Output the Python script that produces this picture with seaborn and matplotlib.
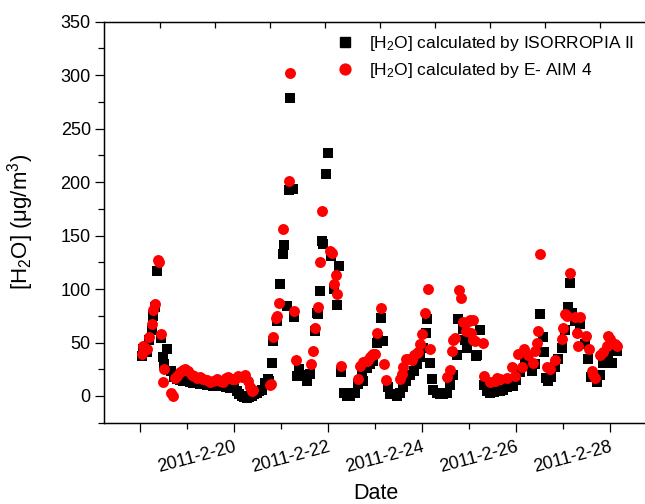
import numpy as np
import pandas as pd
import matplotlib
matplotlib.use("Agg")
import matplotlib.pyplot as plt
import seaborn as sns
from matplotlib.ticker import MultipleLocator, FixedLocator
from matplotlib.lines import Line2D

sns.set_style("ticks")
plt.rcParams["font.family"] = ["Liberation Sans", "DejaVu Sans"]
plt.rcParams["mathtext.fontset"] = "custom"
plt.rcParams["mathtext.rm"] = "Liberation Sans"
plt.rcParams["mathtext.it"] = "Liberation Sans:italic"
plt.rcParams["mathtext.bf"] = "Liberation Sans:bold"
for key in ["text.color", "axes.labelcolor", "xtick.color", "ytick.color", "axes.edgecolor"]:
    plt.rcParams[key] = "black"

# ---- data (day of February 2011, water content in ug/m3) ----
iso_day = [18.04, 18.07, 18.14, 18.20, 18.25, 18.28, 18.32, 18.37, 18.44, 18.48, 18.52, 18.57,
           18.67, 18.72, 18.78, 18.85, 18.92, 18.99, 19.06, 19.13, 19.21, 19.28, 19.35, 19.42,
           19.49, 19.56, 19.63, 19.70, 19.77, 19.84, 19.91, 19.99, 20.06, 20.11, 20.16, 20.21,
           20.27, 20.32, 20.38, 20.43, 20.48, 20.53, 20.60, 20.66, 20.72, 20.75, 20.80, 20.84,
           20.92, 20.98, 21.04, 21.07, 21.12, 21.16, 21.19, 21.25, 21.28, 21.33, 21.39, 21.44,
           21.55, 21.62, 21.72, 21.76, 21.78, 21.83, 21.87, 21.90, 21.96, 22.01, 22.06, 22.13,
           22.20, 22.24, 22.28, 22.33, 22.40, 22.47, 22.54, 22.57, 22.64, 22.72, 22.75, 22.82,
           22.89, 22.96, 23.04, 23.07, 23.12, 23.18, 23.28, 23.32, 23.39, 23.46, 23.53, 23.60,
           23.67, 23.74, 23.82, 23.89, 23.96, 24.02, 24.09, 24.10, 24.16, 24.21, 24.24, 24.31,
           24.38, 24.45, 24.53, 24.60, 24.66, 24.74, 24.77, 24.88, 24.91, 24.95, 25.02, 25.15,
           25.16, 25.23, 25.32, 25.38, 25.45, 25.53, 25.60, 25.66, 25.72, 25.81, 25.87, 25.94,
           26.00, 26.09, 26.19, 26.26, 26.33, 26.40, 26.51, 26.58, 26.60, 26.64, 26.69, 26.74,
           26.83, 26.89, 26.97, 27.04, 27.11, 27.15, 27.19, 27.26, 27.36, 27.47, 27.53, 27.60,
           27.72, 27.79, 27.86, 27.96, 28.04, 28.07, 28.14]
iso_val = [37, 44, 41, 52, 62, 75, 83, 117, 54, 36, 30, 44,
           23, 18, 16, 15, 14, 16, 13, 12, 12, 11, 11, 10,
           11, 9, 10, 9, 9, 8, 7, 8, 5, 2, 0, -1,
           -2, -1, 0, 2, 3, 5, 6, 12, 16, 14, 31, 51,
           70, 105, 133, 141, 84, 193, 279, 194, 74, 19, 25, 20,
           14, 21, 61, 78, 77, 98, 145, 142, 208, 227, 131, 100,
           85, 122, 22, 3, 0, 0, 3, 3, 11, 23, 14, 26,
           30, 33, 50, 52, 73, 51, 8, 2, 2, 0, 3, 8,
           14, 20, 23, 30, 36, 45, 59, 72, 31, 16, 6, 3,
           2, 2, 3, 10, 20, 38, 72, 63, 52, 45, 55, 37,
           38, 62, 10, 5, 3, 4, 5, 5, 6, 8, 9, 9,
           15, 22, 33, 28, 23, 30, 77, 55, 41, 17, 14, 18,
           27, 35, 45, 62, 83, 106, 78, 70, 67, 49, 35, 18,
           13, 20, 31, 35, 31, 44, 42]

aim_day = [18.04, 18.07, 18.14, 18.20, 18.25, 18.28, 18.32, 18.39, 18.40, 18.44, 18.48, 18.52,
           18.67, 18.70, 18.74, 18.79, 18.85, 18.91, 18.96, 19.02, 19.10, 19.15, 19.21, 19.28,
           19.35, 19.42, 19.49, 19.55, 19.63, 19.70, 19.77, 19.84, 19.88, 19.96, 20.02, 20.09,
           20.16, 20.23, 20.30, 20.34, 20.38, 20.40, 20.77, 20.79, 20.84, 20.89, 20.92, 20.96,
           21.04, 21.16, 21.19, 21.28, 21.32, 21.64, 21.69, 21.72, 21.79, 21.83, 21.88, 22.04,
           22.08, 22.13, 22.16, 22.20, 22.28, 22.64, 22.68, 22.74, 22.82, 22.86, 22.89, 22.93,
           22.96, 23.00, 23.04, 23.12, 23.20, 23.23, 23.53, 23.57, 23.60, 23.67, 23.73, 23.78,
           23.82, 23.89, 23.92, 23.96, 24.01, 24.06, 24.12, 24.16, 24.53, 24.60, 24.63, 24.67,
           24.70, 24.79, 24.84, 24.88, 24.94, 24.99, 25.02, 25.04, 25.08, 25.09, 25.13, 25.29,
           25.31, 25.45, 25.55, 25.59, 25.66, 25.80, 25.91, 25.98, 26.05, 26.12, 26.16, 26.26,
           26.36, 26.40, 26.44, 26.47, 26.51, 26.65, 26.72, 26.83, 26.97, 27.01, 27.04, 27.08,
           27.15, 27.26, 27.29, 27.31, 27.36, 27.50, 27.56, 27.61, 27.64, 27.68, 27.79, 27.86,
           27.93, 27.96, 28.00, 28.11, 28.14]
aim_val = [39, 47, 44, 55, 67, 80, 86, 127, 125, 58, 13, 25,
           3, 0, 17, 19, 22, 24, 25, 23, 20, 19, 17, 18,
           16, 15, 13, 14, 16, 14, 13, 17, 18, 16, 16, 19,
           18, 20, 14, 8, 5, 6, 10, 11, 55, 73, 75, 87,
           156, 201, 302, 79, 34, 30, 42, 64, 83, 125, 173, 136,
           134, 105, 113, 95, 28, 16, 28, 32, 33, 34, 36, 38,
           39, 39, 59, 82, 30, 15, 16, 21, 27, 35, 35, 34,
           38, 40, 41, 49, 58, 78, 100, 44, 18, 24, 42, 52,
           54, 99, 92, 69, 61, 70, 71, 59, 71, 52, 51, 50,
           19, 13, 14, 17, 16, 17, 27, 19, 39, 27, 44, 38,
           31, 42, 50, 61, 133, 27, 25, 34, 53, 64, 77, 75,
           115, 74, 59, 47, 74, 56, 44, 23, 20, 17, 38, 41,
           47, 56, 53, 49, 47]

series_names = ["[H$_2$O] calculated by ISORROPIA II", "[H$_2$O] calculated by E- AIM 4"]
xtick_days = [18, 20, 22, 24, 26, 28]
xtick_labels = ["", "2011-2-20", "2011-2-22", "2011-2-24", "2011-2-26", "2011-2-28"]

df_iso = pd.DataFrame({"day": iso_day, "value": iso_val})
df_aim = pd.DataFrame({"day": aim_day, "value": aim_val})

W, H = 645, 504
fig = plt.figure(figsize=(W / 100, H / 100), dpi=100)
left, right, top, bottom = 104, 652, 21.7, 422.7
ax = fig.add_axes([left / W, 1 - bottom / H, (right - left) / W, (bottom - top) / H])

sns.scatterplot(data=df_iso, x="day", y="value", marker="s", color="black", s=42,
                linewidth=0, ax=ax, legend=False, zorder=3)
sns.scatterplot(data=df_aim, x="day", y="value", marker="o", color="red", s=62,
                linewidth=0, ax=ax, legend=False, zorder=4)

def px2day(p):
    return 18 + (p - 140) / 47.0

ax.set_xlim(px2day(left), px2day(right))
ax.set_ylim(-25, 350)

ax.xaxis.set_major_locator(FixedLocator(xtick_days))
ax.xaxis.set_minor_locator(MultipleLocator(1))
ax.set_xticklabels(xtick_labels)
ax.yaxis.set_major_locator(MultipleLocator(50))
ax.yaxis.set_minor_locator(MultipleLocator(25))

for sp in ax.spines.values():
    sp.set_linewidth(1.0)
    sp.set_color("black")

ax.tick_params(axis="both", which="major", direction="out", length=6.5, width=0.9,
               labelsize=13, color="black", labelcolor="black")
ax.tick_params(axis="both", which="minor", direction="out", length=4, width=0.9, color="black")
ax.tick_params(axis="y", pad=3)
ax.tick_params(axis="x", pad=5)
for lab in ax.get_xticklabels():
    lab.set_rotation(15)
    lab.set_ha("right")
    lab.set_va("top")
    lab.set_rotation_mode("anchor")

# top axis with its own inward ticks
ax2 = ax.twiny()
ax2.set_xlim(left, right)
ax2.xaxis.set_major_locator(FixedLocator(np.arange(160, right, 55)))
ax2.tick_params(axis="x", which="major", direction="in", length=4, width=0.9,
                labeltop=False, top=True, color="black")
ax2.spines["right"].set_visible(False)
ax.spines["right"].set_visible(False)
ax2.spines["top"].set_color("black")
ax2.grid(False)

ax.set_xlabel("Date", fontsize=15.5, color="black")
ax.xaxis.set_label_coords((376 - left) / (right - left), (bottom - 483) / (bottom - top))
ax.xaxis.label.set_va("top")
ax.set_ylabel("[H$_2$O] (\u03bcg/m$^3$)", fontsize=16, color="black")
ax.yaxis.set_label_coords((36 - left) / (right - left), 0.5)

handles = [
    Line2D([], [], marker="s", color="black", linestyle="none", markersize=6.5),
    Line2D([], [], marker="o", color="red", linestyle="none", markersize=7.8),
]
ax.legend(handles, series_names, loc="upper left", bbox_to_anchor=(336 / W, 1 - 34 / H),
          bbox_transform=fig.transFigure, frameon=False, fontsize=12.5, handlelength=1.0,
          handletextpad=0.9, labelspacing=0.45, borderpad=0, borderaxespad=0,
          labelcolor="black")

fig.savefig("out.png", dpi=100)
